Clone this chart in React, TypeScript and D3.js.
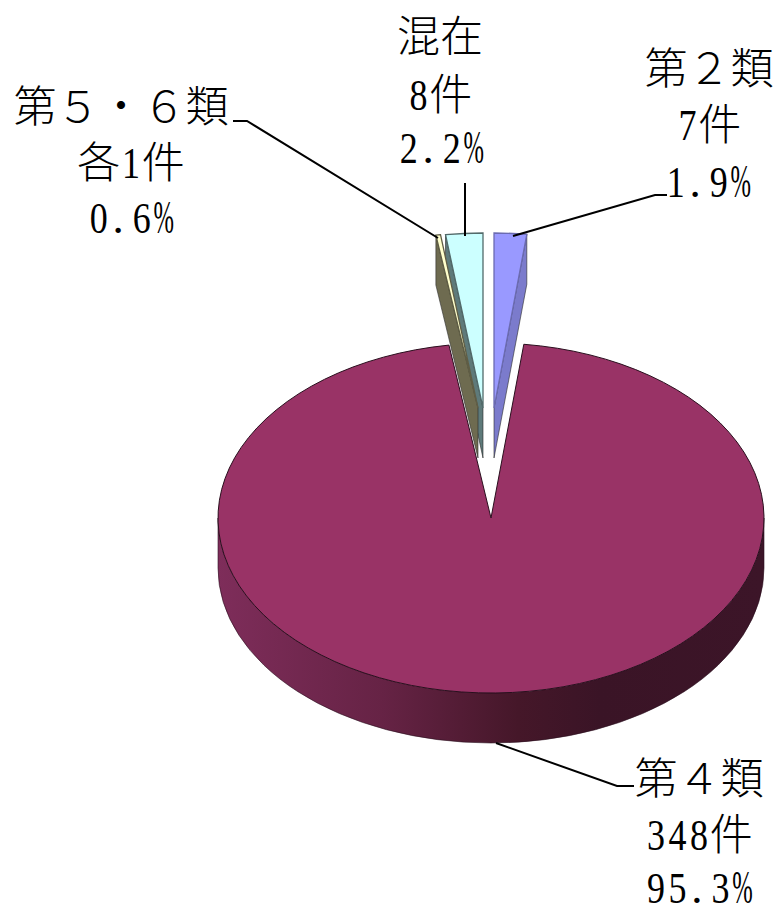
import React from "react";
import * as d3 from "d3";

const categories = ["第２類", "第４類", "第５類", "第６類", "混在"];
const counts = [7, 348, 1, 1, 8];
const faceColors = ["#9999FF", "#993366", "none", "#FFFFCC", "#CCFFFF"];
const wallColors = ["#7B7BCC", "#993366", "none", "#6E6B50", "#5E7A7A"];

const labelLines = [
  ["第２類", "7件", "1.9%"],
  ["第４類", "348件", "95.3%"],
  ["第５・６類", "各1件", "0.6%"],
  ["混在", "8件", "2.2%"],
];

const W = 777, H = 907;
const CX = 491, CY = 518, RX = 273, RY = 175, DEPTH = 50;
const FS = 43, DIGIT_FS = 45, DIGIT_W = 18;
const R = 100;
const MAIN_EDGE_NUDGE = (1 * Math.PI) / 180;
// apex of each slice after it is pulled out of the pie
const apex: [number, number][] = [[494, 408], [CX, CY], [478, 408], [478, 408], [483, 408]];

const pieGen = d3.pie<number>().sort(null).startAngle(0).endAngle(2 * Math.PI);
const arcs = pieGen(counts);
const arcGen = d3.arc<d3.PieArcDatum<number>>().innerRadius(0).outerRadius(R);

const project = (a: number, i: number): [number, number] => [
  apex[i][0] + RX * Math.sin(a),
  apex[i][1] - RY * Math.cos(a),
];

const wallPath = (a: number, i: number) => {
  const p = project(a, i);
  const l = d3.path();
  l.moveTo(p[0], p[1]);
  l.lineTo(p[0], p[1] + DEPTH);
  l.lineTo(apex[i][0], apex[i][1] + DEPTH);
  l.lineTo(apex[i][0], apex[i][1]);
  l.closePath();
  return l.toString();
};

const rimPath = `M${CX - RX},${CY} L${CX - RX},${CY + DEPTH} A${RX},${RY} 0 0 0 ${CX + RX},${CY + DEPTH} L${CX + RX},${CY} A${RX},${RY} 0 0 1 ${CX - RX},${CY} Z`;

const leaders: [number, number][][] = [
  [[667, 195], [655, 195], [513, 236]],
  [[634, 786], [617, 786], [496, 743]],
  [[233, 121], [247, 121], [438, 238]],
  [[465, 183], [465, 236]],
];

const labelPos = [
  { cx: [709, 709, 708], ys: [84, 140, 197] },
  { cx: [699, 699, 699], ys: [794, 850, 903] },
  { cx: [121, 131, 131], ys: [122, 178, 233] },
  { cx: [440, 440, 441], ys: [52, 110, 163] },
];

const isHalf = (c: string) => c.charCodeAt(0) < 128;

function Line({ text, cx, y }: { text: string; cx: number; y: number }) {
  const chars = Array.from(text);
  const total = chars.reduce((s, c) => s + (isHalf(c) ? FS / 2 : FS), 0);
  let x = cx - total / 2;
  return (
    <text y={y} fontFamily="'Noto Sans CJK JP'" fontWeight={300} fontSize={FS} fill="#000">
      {chars.map((c, i) => {
        const half = isHalf(c);
        const px = x;
        x += half ? FS / 2 : FS;
        if (half) {
          const isDot = c === ".";
          const isPct = c === "%";
          return (
            <tspan
              key={i}
              x={isDot ? px + 3 : isPct ? px + 1 : px + (FS / 2 - DIGIT_W) / 2}
              fontFamily="'Liberation Serif'"
              fontWeight={400}
              fontSize={isPct ? DIGIT_FS * 1.05 : DIGIT_FS}
              textLength={isDot ? undefined : isPct ? FS / 2 - 1 : DIGIT_W}
              lengthAdjust="spacingAndGlyphs"
            >
              {c}
            </tspan>
          );
        }
        return (
          <tspan key={i} x={px}>
            {c}
          </tspan>
        );
      })}
    </text>
  );
}

export default function App() {
  const lineGen = d3.line();
  const big = { ...arcs[1], endAngle: arcs[1].endAngle + MAIN_EDGE_NUDGE };
  const edge = (i: number) => d3.color(wallColors[i])!.darker(0.4).formatHex();
  return (
    <svg
      width={W}
      height={H}
      viewBox={`0 0 ${W} ${H}`}
      style={{ position: "absolute", left: 0, top: 0, background: "#fff" }}
    >
      <defs>
        <linearGradient id="rim" gradientUnits="userSpaceOnUse" x1={CX - RX} x2={CX + RX} y1={0} y2={0}>
          <stop offset="0" stopColor="#7E2D5A" />
          <stop offset="0.3" stopColor="#662345" />
          <stop offset="0.55" stopColor="#451729" />
          <stop offset="0.7" stopColor="#3A1426" />
          <stop offset="1" stopColor="#3C1528" />
        </linearGradient>
      </defs>

      {/* pulled-out slices: walls first, then faces */}
      {[0, 4, 3].map((i) => (
        <path
          key={categories[i]}
          d={wallWall(i)}
          fill={wallColors[i]}
          stroke="#2a2a2a"
          strokeWidth={0.6}
        />
      ))}
      {[0, 4, 3].map((i) => (
        <path
          key={categories[i]}
          d={arcGen(arcs[i]) ?? ""}
          transform={`translate(${apex[i][0]},${apex[i][1]}) scale(${RX / R},${RY / R})`}
          fill={faceColors[i]}
          stroke={edge(i)}
          strokeWidth={1.3}
          vectorEffect="non-scaling-stroke"
        />
      ))}

      {/* main slice */}
      <path d={rimPath} fill="url(#rim)" stroke="#2a0f1e" strokeWidth={0.6} />
      <path
        d={arcGen(big) ?? ""}
        transform={`translate(${CX},${CY}) scale(${RX / R},${RY / R})`}
        fill={faceColors[1]}
        stroke="#2a0f1e"
        strokeWidth={1}
        vectorEffect="non-scaling-stroke"
      />

      {leaders.map((pts, i) => (
        <path key={i} d={lineGen(pts) ?? ""} fill="none" stroke="#000" strokeWidth={2} />
      ))}

      {labelLines.map((lines, i) =>
        lines.map((t, j) => <Line key={`${i}-${j}`} text={t} cx={labelPos[i].cx[j]} y={labelPos[i].ys[j]} />)
      )}
    </svg>
  );
}

function wallWall(i: number) {
  return wallPath(i === 0 ? arcs[i].endAngle : arcs[i].startAngle, i);
}
